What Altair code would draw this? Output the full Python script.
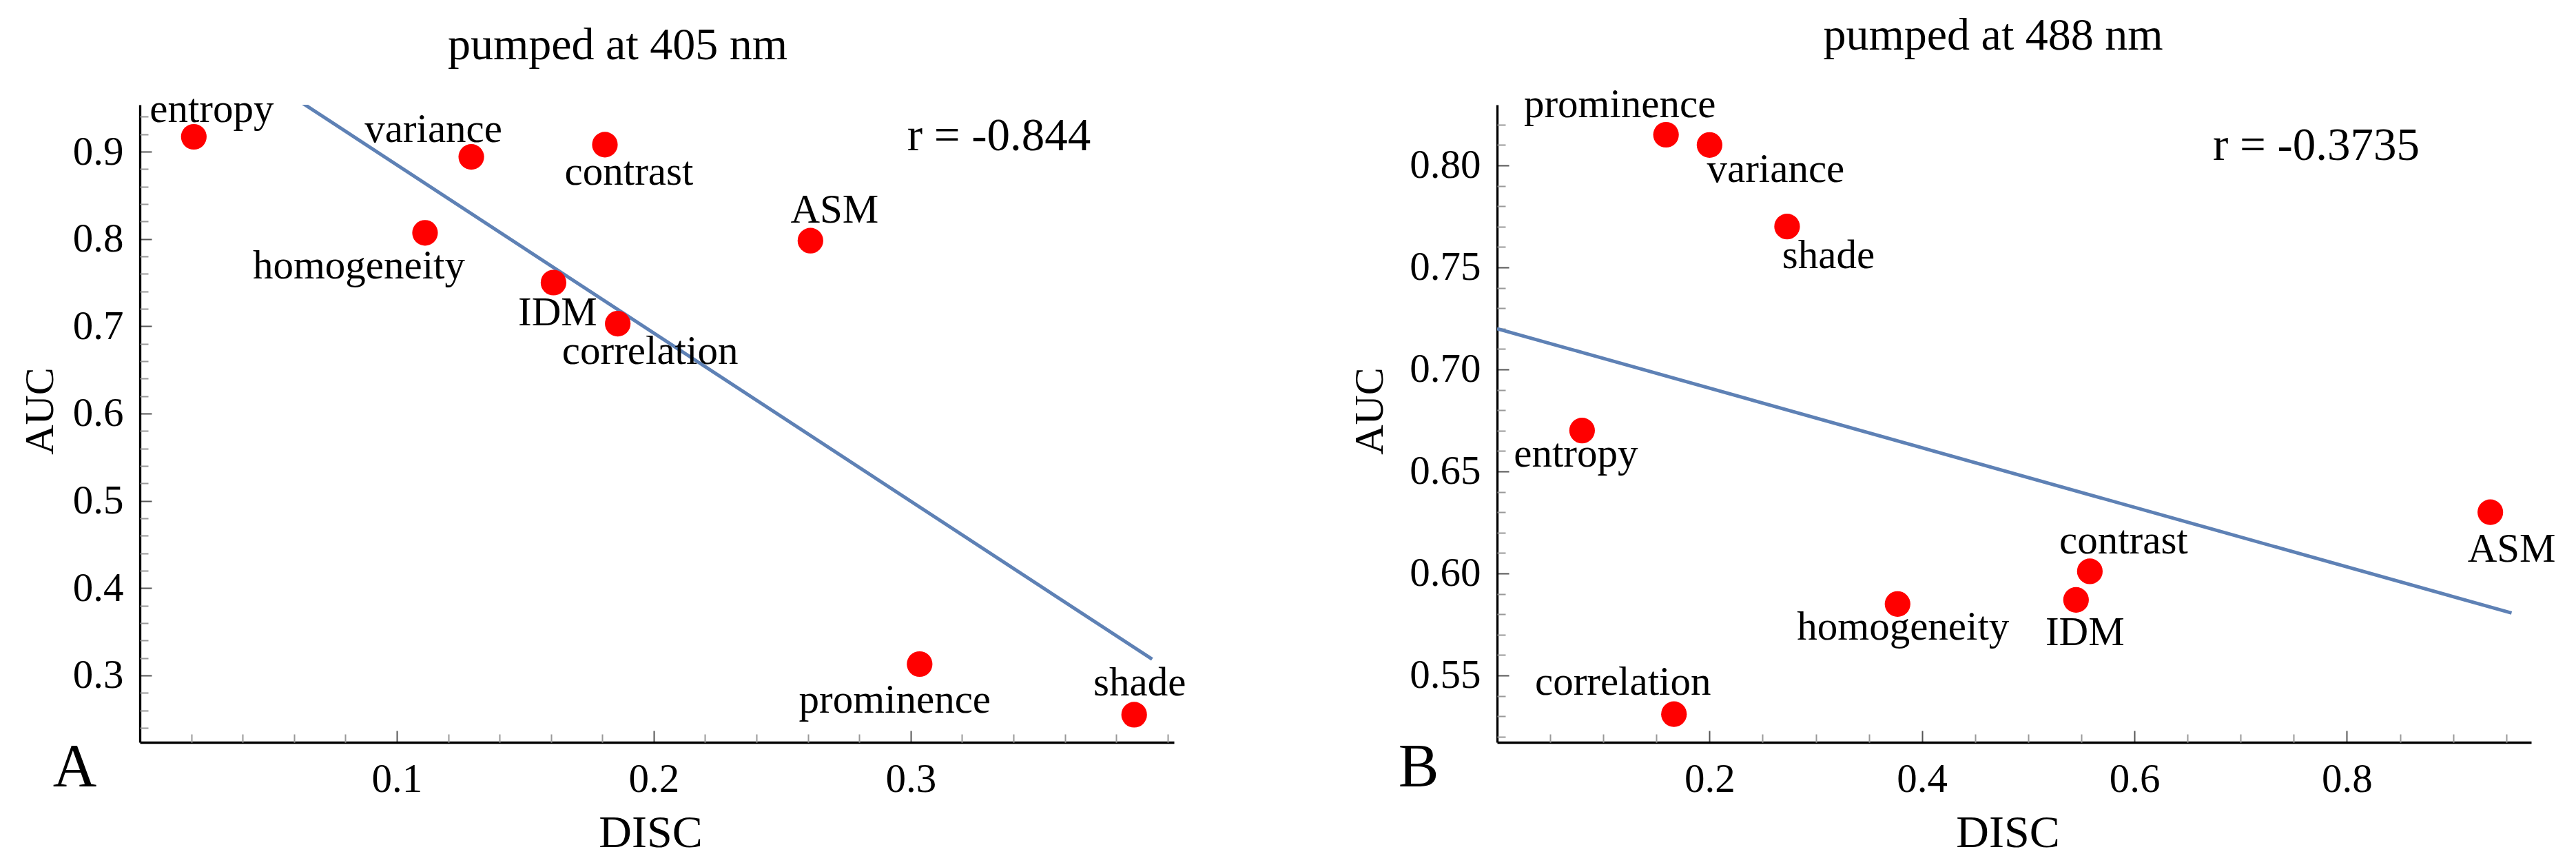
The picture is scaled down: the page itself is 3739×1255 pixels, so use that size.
import altair as alt
import pandas as pd

# ---------------- data ----------------
features = ["entropy", "variance", "contrast", "homogeneity", "IDM",
            "correlation", "ASM", "prominence", "shade"]

disc_405 = [0.021, 0.129, 0.181, 0.111, 0.161, 0.186, 0.261, 0.3035, 0.387]
auc_405 = [0.917, 0.894, 0.908, 0.807, 0.750, 0.703, 0.798, 0.313, 0.255]

disc_488 = [0.080, 0.200, 0.558, 0.377, 0.545, 0.1665, 0.935, 0.159, 0.273]
auc_488 = [0.670, 0.810, 0.601, 0.585, 0.587, 0.531, 0.630, 0.815, 0.770]

titles = ["pumped at 405 nm", "pumped at 488 nm"]
r_texts = ["r = -0.844", "r = -0.3735"]
panel_letters = ["A", "B"]

x_major_405 = [0.1, 0.2, 0.3]
x_minor_405 = [0.02, 0.04, 0.06, 0.08, 0.12, 0.14, 0.16, 0.18, 0.22, 0.24,
               0.26, 0.28, 0.32, 0.34, 0.36, 0.38, 0.40]
y_major_405 = [0.3, 0.4, 0.5, 0.6, 0.7, 0.8, 0.9]
y_minor_405 = [0.24, 0.26, 0.28, 0.32, 0.34, 0.36, 0.38, 0.42, 0.44, 0.46,
               0.48, 0.52, 0.54, 0.56, 0.58, 0.62, 0.64, 0.66, 0.68, 0.72,
               0.74, 0.76, 0.78, 0.82, 0.84, 0.86, 0.88, 0.92, 0.94]

x_major_488 = [0.2, 0.4, 0.6, 0.8]
x_minor_488 = [0.05, 0.1, 0.15, 0.25, 0.3, 0.35, 0.45, 0.5, 0.55, 0.65,
               0.7, 0.75, 0.85, 0.9, 0.95]
y_major_488 = [0.55, 0.60, 0.65, 0.70, 0.75, 0.80]
y_minor_488 = [0.52, 0.53, 0.54, 0.56, 0.57, 0.58, 0.59, 0.61, 0.62, 0.63,
               0.64, 0.66, 0.67, 0.68, 0.69, 0.71, 0.72, 0.73, 0.74, 0.76,
               0.77, 0.78, 0.79, 0.81, 0.82]

# ---------------- styling / layout ----------------
FONT = "Liberation Serif"
W, H = 1501, 925
RED = "#ff0000"
BLUE = "#5e81b5"

label_offsets_405 = {
    "entropy": (26, -21), "variance": (-55, -22), "contrast": (35, 58),
    "homogeneity": (-96, 66), "IDM": (6, 62), "correlation": (47, 58),
    "ASM": (35, -26), "prominence": (-36, 70), "shade": (8, -28),
}
label_offsets_488 = {
    "prominence": (-67, -26), "variance": (96, 54), "shade": (60, 60),
    "entropy": (-9, 52), "correlation": (-74, -28), "homogeneity": (8, 52),
    "contrast": (49, -26), "IDM": (13, 66), "ASM": (31, 72),
}


def panel(df, xdom, ydom, xmaj, xmin, ymaj, ymin, xfmt, yfmt, extent,
          offsets, title, title_xy, rtext, r_xy, letter, letter_xy,
          ytitle_x, anchor=False):
    xs = alt.Scale(domain=xdom, nice=False, zero=False)
    ys = alt.Scale(domain=ydom, nice=False, zero=False)

    main_x = alt.Axis(orient="bottom", values=xmaj, format=xfmt, ticks=False,
                      domainColor="black", domainWidth=3.3, grid=False,
                      labelFont=FONT, labelFontSize=59, labelColor="black",
                      labelPadding=24, labelFlush=False, labelOverlap=False,
                      title="DISC", titleFont=FONT, titleFontSize=66,
                      titleFontWeight="normal", titleColor="black",
                      titleX=741, titleY=151, titleAlign="center",
                      titleBaseline="alphabetic")
    main_y = alt.Axis(orient="left", values=ymaj, format=yfmt, ticks=False,
                      domainColor="black", domainWidth=3.3, grid=False,
                      labelFont=FONT, labelFontSize=59, labelColor="black",
                      labelPadding=24, labelFlush=False, labelOverlap=False,
                      title="AUC", titleFont=FONT, titleFontSize=60,
                      titleFontWeight="normal", titleColor="black",
                      titleX=ytitle_x, titleY=444, titleAngle=270,
                      titleAlign="center", titleBaseline="alphabetic")
    major_x = alt.Axis(orient="bottom", values=xmaj, ticks=True, tickSize=17,
                       tickWidth=2, tickColor="#555555", labels=False,
                       domain=False, grid=False, title=None, offset=-17)
    major_y = alt.Axis(orient="left", values=ymaj, ticks=True, tickSize=17,
                       tickWidth=2, tickColor="#555555", labels=False,
                       domain=False, grid=False, title=None, offset=-17)
    minor_x = alt.Axis(orient="bottom", values=xmin, ticks=True, tickSize=12,
                       tickWidth=2, tickColor="#999999", labels=False,
                       domain=False, grid=False, title=None, offset=-12)
    minor_y = alt.Axis(orient="left", values=ymin, ticks=True, tickSize=12,
                       tickWidth=2, tickColor="#999999", labels=False,
                       domain=False, grid=False, title=None, offset=-12)

    base = alt.Chart(df)

    line = base.transform_regression("DISC", "AUC", extent=extent).mark_line(
        color=BLUE, strokeWidth=5, clip=True
    ).encode(
        x=alt.X("DISC:Q", scale=xs, axis=major_x),
        y=alt.Y("AUC:Q", scale=ys, axis=major_y),
    )

    points = base.mark_circle(size=1385, color=RED, opacity=1).encode(
        x=alt.X("DISC:Q", scale=xs, axis=main_x),
        y=alt.Y("AUC:Q", scale=ys, axis=main_y),
    )

    layers = [line, points]
    for i, f in enumerate(features):
        dx, dy = offsets[f]
        ax_x = minor_x if i == 0 else None
        ax_y = minor_y if i == 0 else None
        layers.append(
            base.transform_filter(alt.datum.feature == f).mark_text(
                font=FONT, fontSize=59, color="black", align="center",
                baseline="alphabetic", dx=dx, dy=dy
            ).encode(
                x=alt.X("DISC:Q", scale=xs, axis=ax_x),
                y=alt.Y("AUC:Q", scale=ys, axis=ax_y),
                text="feature:N",
            )
        )

    def annot(txt, xy, size):
        return alt.Chart(pd.DataFrame({"t": [txt]})).mark_text(
            font=FONT, fontSize=size, color="black", align="center",
            baseline="alphabetic"
        ).encode(x=alt.value(xy[0]), y=alt.value(xy[1]), text="t:N")

    layers.append(annot(title, title_xy, 66))
    layers.append(annot(rtext, r_xy, 67))
    layers.append(annot(letter, letter_xy, 88))

    if anchor:
        layers.append(
            alt.Chart(pd.DataFrame({"t": [0]})).mark_rule(
                strokeOpacity=0, strokeWidth=1
            ).encode(x=alt.value(-194.5), y=alt.value(-144), y2=alt.value(-143))
        )

    return alt.layer(*layers).resolve_axis(
        x="independent", y="independent"
    ).properties(width=W, height=H)


df405 = pd.DataFrame({"feature": features, "DISC": disc_405, "AUC": auc_405})
df488 = pd.DataFrame({"feature": features, "DISC": disc_488, "AUC": auc_488})

pA = panel(df405, [0, 0.4025], [0.2234, 0.9537],
           x_major_405, x_minor_405, y_major_405, y_minor_405,
           ".1f", ".1f", [0, 0.394], label_offsets_405,
           titles[0], (693.5, -66), r_texts[0], (1247, 65.6),
           panel_letters[0], (-94.5, 988), -126.5, anchor=True)

pB = panel(df488, [0, 0.9735], [0.5172, 0.8297],
           x_major_488, x_minor_488, y_major_488, y_minor_488,
           ".1f", ".2f", [0, 0.955], label_offsets_488,
           titles[1], (720, -80), r_texts[1], (1189, 80),
           panel_letters[1], (-114, 988), -167)

chart = alt.hconcat(pA, pB, spacing=469, bounds="flush").configure_view(
    stroke=None
).properties(padding={"left": 0, "top": 0, "right": 5, "bottom": 5},
             background="white")

chart.save("out.html", embed_options={"renderer": "svg", "actions": False})
